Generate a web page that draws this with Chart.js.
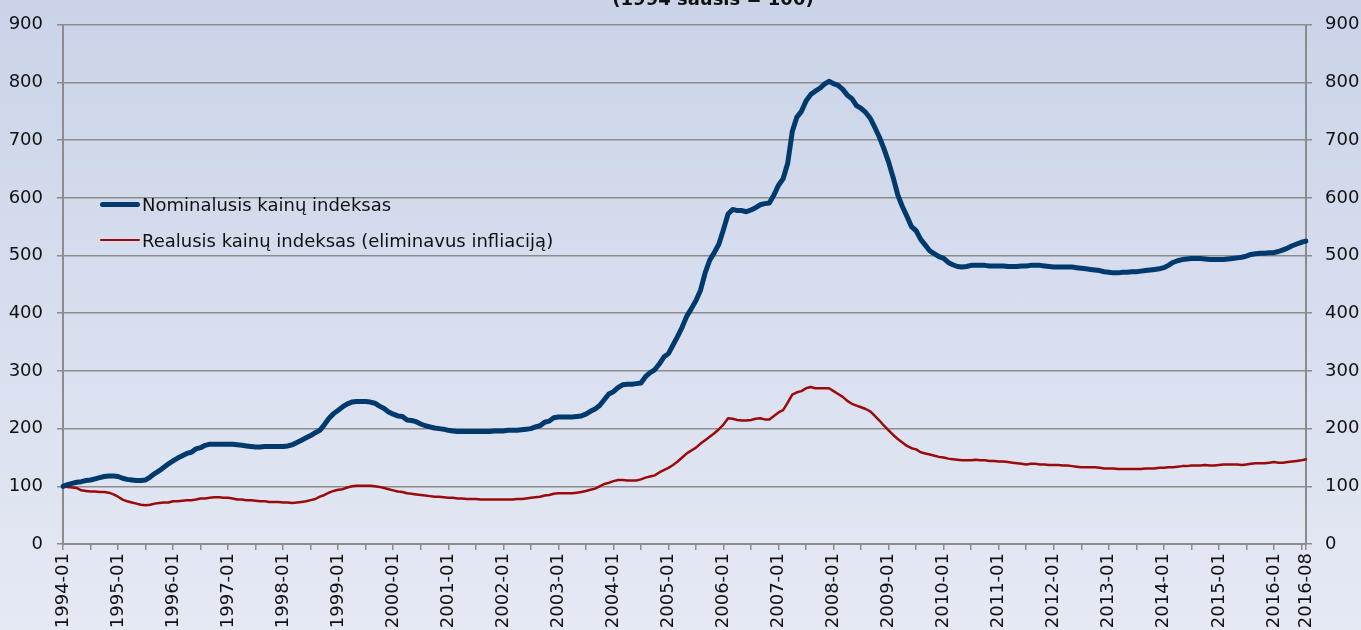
<!DOCTYPE html>
<html>
<head>
<meta charset="utf-8">
<script src="https://cdn.jsdelivr.net/npm/chart.js@4"></script>
<style>
  html, body { margin: 0; padding: 0; }
  body {
    width: 1361px; height: 630px; overflow: hidden;
    background: linear-gradient(#cad3e8, #e5e9f4);
    font-family: "DejaVu Sans", Verdana, sans-serif;
  }
  #wrap { position: relative; width: 1361px; height: 630px; }
  #legend { position: absolute; left: 100px; top: 193px; }
  .row { display: flex; align-items: center; height: 22px; margin-bottom: 14px; font-size: 18px; color: #111; }
  .swatch { width: 40px; border-radius: 3px; margin-right: 2px; }
</style>
</head>
<body>
<div id="wrap">
  <canvas id="chart"></canvas>
  <div id="legend"></div>
</div>
<script>
// Monthly index, 1994-01 ... 2016-08
const startYear = 1994;
const monthCount = 272;
const tickLabels = ["1994-01", "1995-01", "1996-01", "1997-01", "1998-01", "1999-01", "2000-01", "2001-01",
  "2002-01", "2003-01", "2004-01", "2005-01", "2006-01", "2007-01", "2008-01", "2009-01", "2010-01",
  "2011-01", "2012-01", "2013-01", "2014-01", "2015-01", "2016-01", "2016-08"];
const yTicks = [0, 100, 200, 300, 400, 500, 600, 700, 800, 900];

const titleText = "(1994 sausis = 100)";
const seriesNames = ["Nominalusis kainų indeksas", "Realusis kainų indeksas (eliminavus infliaciją)"];

const nominal = [
  100, 103, 105, 107, 108, 110, 111, 113, 115, 117, 118, 118, // 1994
  117, 114, 112, 111, 110, 110, 111, 116, 122, 127, 133, 139, // 1995
  144, 149, 153, 157, 159, 165, 167, 171, 173, 173, 173, 173, // 1996
  173, 173, 172, 171, 170, 169, 168, 168, 169, 169, 169, 169, // 1997
  169, 170, 172, 176, 180, 184, 188, 193, 197, 207, 218, 226, // 1998
  232, 238, 243, 246, 247, 247, 247, 246, 244, 239, 235, 229, // 1999
  225, 222, 221, 215, 214, 212, 208, 205, 203, 201, 200, 199, // 2000
  197, 196, 195, 195, 195, 195, 195, 195, 195, 195, 196, 196, // 2001
  196, 197, 197, 197, 198, 199, 200, 203, 205, 211, 213, 219, // 2002
  220, 220, 220, 220, 221, 222, 225, 230, 234, 240, 250, 260, // 2003
  264, 271, 276, 277, 277, 278, 279, 290, 297, 302, 312, 324, // 2004
  330, 345, 360, 376, 395, 408, 422, 440, 470, 492, 505, 520, // 2005
  545, 572, 580, 578, 578, 576, 579, 583, 588, 590, 591, 605, // 2006
  622, 633, 660, 715, 740, 750, 768, 779, 785, 790, 797, 802, // 2007
  798, 795, 788, 778, 772, 760, 755, 748, 738, 722, 705, 685, // 2008
  662, 635, 605, 585, 568, 550, 543, 528, 518, 508, 503, 498, // 2009
  495, 488, 484, 481, 480, 481, 483, 483, 483, 483, 482, 482, // 2010
  482, 482, 481, 481, 481, 482, 482, 483, 483, 483, 482, 481, // 2011
  480, 480, 480, 480, 480, 479, 478, 477, 476, 475, 474, 472, // 2012
  471, 470, 470, 471, 471, 472, 472, 473, 474, 475, 476, 477, // 2013
  479, 483, 488, 491, 493, 494, 495, 495, 495, 494, 493, 493, // 2014
  493, 493, 494, 495, 496, 497, 499, 502, 503, 504, 504, 505, // 2015
  505, 507, 510, 513, 517, 520, 523, 525                      // 2016
];

const real = [
  100, 99, 98, 97, 93, 92, 91, 91, 90, 90, 89, 86,           // 1994
  82, 77, 74, 72, 70, 68, 67, 68, 70, 71, 72, 72,            // 1995
  74, 74, 75, 76, 76, 77, 79, 79, 80, 81, 81, 80,            // 1996
  80, 79, 77, 77, 76, 76, 75, 74, 74, 73, 73, 73,            // 1997
  72, 72, 71, 72, 73, 74, 76, 78, 82, 85, 89, 92,            // 1998
  94, 95, 98, 100, 101, 101, 101, 101, 100, 99, 97, 95,      // 1999
  93, 91, 90, 88, 87, 86, 85, 84, 83, 82, 82, 81,            // 2000
  80, 80, 79, 79, 78, 78, 78, 77, 77, 77, 77, 77,            // 2001
  77, 77, 77, 78, 78, 79, 80, 81, 82, 84, 85, 87,            // 2002
  88, 88, 88, 88, 89, 90, 92, 94, 96, 100, 104, 106,         // 2003
  109, 111, 111, 110, 110, 110, 112, 115, 117, 119, 124, 128, // 2004
  132, 137, 143, 150, 157, 162, 167, 174, 180, 186, 192, 199, // 2005
  207, 218, 217, 215, 214, 214, 215, 217, 218, 216, 216, 222, // 2006
  228, 232, 245, 259, 263, 265, 270, 272, 270, 270, 270, 270, // 2007
  265, 260, 255, 248, 243, 240, 237, 234, 230, 222, 214, 205, // 2008
  197, 189, 182, 176, 170, 166, 164, 159, 157, 155, 153, 151, // 2009
  150, 148, 147, 146, 145, 145, 145, 146, 145, 145, 144, 144, // 2010
  143, 143, 142, 141, 140, 139, 138, 139, 139, 138, 138, 137, // 2011
  137, 137, 136, 136, 135, 134, 133, 133, 133, 133, 132, 131, // 2012
  131, 131, 130, 130, 130, 130, 130, 130, 131, 131, 131, 132, // 2013
  132, 133, 133, 134, 135, 135, 136, 136, 136, 137, 136, 136, // 2014
  137, 138, 138, 138, 138, 137, 138, 139, 140, 140, 140, 141, // 2015
  142, 141, 141, 142, 143, 144, 145, 147                      // 2016
];

// month labels "YYYY-MM"
const months = [];
for (let i = 0; i < monthCount; i++) {
  const y = startYear + Math.floor(i / 12);
  const m = String(i % 12 + 1).padStart(2, "0");
  months.push(y + "-" + m);
}

const FONT = "'DejaVu Sans', Verdana, sans-serif";
const GRID = "#8c8c8c";
const colors = ["#003a6c", "#9b0a0a"];
const widths = [5, 2.5];

// title sits mostly above the visible area in the original
const titlePlugin = {
  id: "cutTitle",
  afterDraw(chart) {
    const c = chart.ctx;
    c.save();
    c.font = "bold 18px " + FONT;
    c.fillStyle = "#111";
    c.textAlign = "center";
    c.textBaseline = "alphabetic";
    c.fillText(titleText, 713, 5);
    c.restore();
  }
};

const ctx = document.getElementById("chart").getContext("2d");
const chart = new Chart(ctx, {
  type: "line",
  data: {
    labels: months,
    datasets: [
      { label: seriesNames[0], data: nominal, borderColor: colors[0], borderWidth: widths[0], yAxisID: "y" },
      { label: seriesNames[1], data: real, borderColor: colors[1], borderWidth: widths[1], yAxisID: "y" }
    ]
  },
  options: {
    responsive: true,
    maintainAspectRatio: false,
    animation: false,
    layout: { padding: { top: 19, bottom: 0, left: 0, right: 0 } },
    elements: {
      point: { radius: 0 },
      line: { tension: 0, borderJoinStyle: "round", borderCapStyle: "round" }
    },
    plugins: {
      legend: { display: false },
      tooltip: { enabled: false }
    },
    scales: {
      x: {
        type: "category",
        offset: false,
        afterFit: s => { s.height = 86; },
        border: { display: true, color: GRID, width: 2 },
        grid: {
          drawOnChartArea: false,
          drawTicks: true,
          tickLength: 6,
          lineWidth: 1.5,
          color: c => (c.index % 6 === 0 || c.index === monthCount - 1) ? GRID : "rgba(0,0,0,0)"
        },
        ticks: {
          autoSkip: false,
          maxRotation: 90,
          minRotation: 90,
          padding: 3,
          color: "#111",
          font: { family: FONT, size: 18 },
          callback: (v, i) => tickLabels.includes(months[i]) ? months[i] : ""
        }
      },
      y: {
        position: "left",
        min: 0, max: 900,
        afterFit: s => { s.width = 63; },
        afterBuildTicks: s => { s.ticks = yTicks.map(v => ({ value: v })); },
        border: { display: true, color: GRID, width: 2 },
        grid: { color: GRID, lineWidth: 1.5, tickLength: 6 },
        ticks: { padding: 14, color: "#111", font: { family: FONT, size: 18 } }
      },
      y2: {
        position: "right",
        min: 0, max: 900,
        afterFit: s => { s.width = 55; },
        afterBuildTicks: s => { s.ticks = yTicks.map(v => ({ value: v })); },
        border: { display: true, color: GRID, width: 2 },
        grid: { drawOnChartArea: false, color: GRID, lineWidth: 1.5, tickLength: 6 },
        ticks: { padding: 13, color: "#111", font: { family: FONT, size: 18 } }
      }
    }
  },
  plugins: [titlePlugin]
});

// legend placed inside the plot, as in the original
const legendBox = document.getElementById("legend");
chart.data.datasets.forEach((ds, i) => {
  const row = document.createElement("div");
  row.className = "row";
  const sw = document.createElement("span");
  sw.className = "swatch";
  sw.style.height = widths[i] + "px";
  sw.style.background = colors[i];
  const txt = document.createElement("span");
  txt.textContent = ds.label;
  row.appendChild(sw);
  row.appendChild(txt);
  legendBox.appendChild(row);
});
</script>
</body>
</html>
